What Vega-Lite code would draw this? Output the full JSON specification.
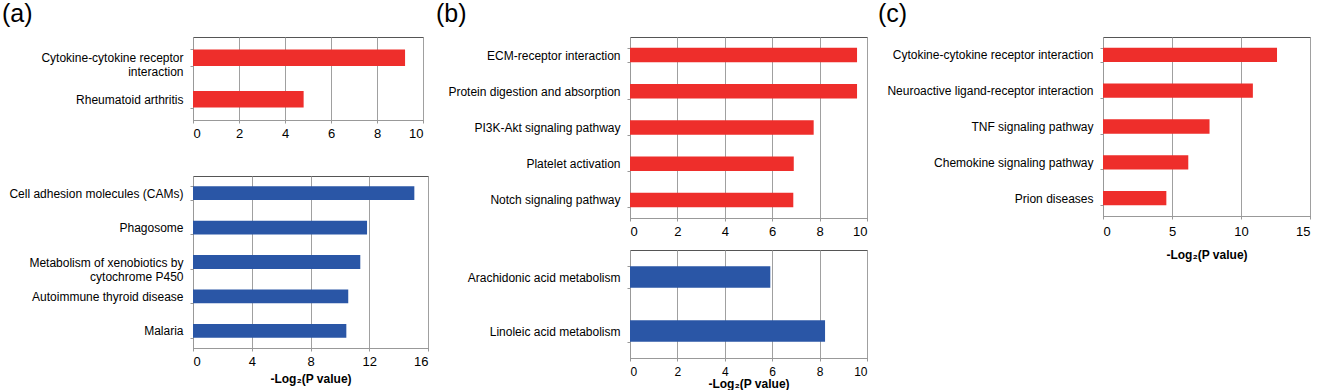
{
  "$schema": "https://vega.github.io/schema/vega-lite/v6.json",
  "background": "white",
  "padding": {"left": 1, "top": 1, "right": 0, "bottom": 0},
  "bounds": "flush",
  "spacing": 437,
  "config": {
    "font": "Liberation Sans",
    "view": {"stroke": "#555", "strokeWidth": 1},
    "axis": {"labelColor": "#000", "titleColor": "#000", "domainColor": "#999", "tickColor": "#999", "tickSize": 3, "gridColor": "#a0a0a0", "labelFont": "Liberation Sans", "titleFont": "Liberation Sans"},
    "axisX": {"grid": true, "labelFontSize": 13, "labelPadding": 4, "titleFontSize": 12, "titleFontWeight": "bold"},
    "axisY": {"grid": false, "labelFontSize": 12, "labelPadding": 7, "labelLimit": 300, "tickBand": "extent", "labelLineHeight": 14},
    "title": {"fontSize": 25, "fontWeight": "normal", "anchor": "start", "frame": "group", "baseline": "alphabetic", "color": "#000", "font": "Liberation Sans"}
  },
  "hconcat": [
    {
      "vconcat": [
        {
          "width": 230, "height": 83,
          "title": {"text": "(a)", "dx": -191, "offset": 4},
          "data": {"values": [
            {"pathway": "Cytokine-cytokine receptor interaction", "value": 9.22},
            {"pathway": "Rheumatoid arthritis", "value": 4.81}
          ]},
          "mark": {"type": "bar", "color": "#EE2E2B"},
          "encoding": {
            "y": {"field": "pathway", "type": "nominal", "sort": null, "title": null,
                  "scale": {"paddingInner": 0.6, "paddingOuter": 0.3},
                  "axis": {"labelExpr": "datum.value == 'Cytokine-cytokine receptor interaction' ? ['Cytokine-cytokine receptor', 'interaction'] : datum.value"}},
            "x": {"field": "value", "type": "quantitative", "title": null,
                  "scale": {"domain": [0, 10], "nice": false},
                  "axis": {"values": [0, 2, 4, 6, 8, 10], "labelPadding": 4.5}}
          }
        },
        {
          "width": 235, "height": 172,
          "data": {"values": [
            {"pathway": "Cell adhesion molecules (CAMs)", "value": 15.07},
            {"pathway": "Phagosome", "value": 11.85},
            {"pathway": "Metabolism of xenobiotics by cytochrome P450", "value": 11.39},
            {"pathway": "Autoimmune thyroid disease", "value": 10.57},
            {"pathway": "Malaria", "value": 10.44}
          ]},
          "mark": {"type": "bar", "color": "#2A56A6"},
          "encoding": {
            "y": {"field": "pathway", "type": "nominal", "sort": null, "title": null,
                  "scale": {"paddingInner": 0.6, "paddingOuter": 0.3},
                  "axis": {"labelExpr": "datum.value == 'Metabolism of xenobiotics by cytochrome P450' ? ['Metabolism of xenobiotics by', 'cytochrome P450'] : datum.value"}},
            "x": {"field": "value", "type": "quantitative", "title": "-Log₂(P value)",
                  "scale": {"domain": [0, 16], "nice": false},
                  "axis": {"values": [0, 4, 8, 12, 16], "labelPadding": 4, "titlePadding": 5}}
          }
        }
      ],
      "spacing": 56,
      "bounds": "flush"
    },
    {
      "hconcat": [
        {
          "vconcat": [
            {
              "width": 237, "height": 181,
              "title": {"text": "(b)", "dx": -194, "offset": 4},
              "data": {"values": [
                {"pathway": "ECM-receptor interaction", "value": 9.58},
                {"pathway": "Protein digestion and absorption", "value": 9.58},
                {"pathway": "PI3K-Akt signaling pathway", "value": 7.75},
                {"pathway": "Platelet activation", "value": 6.91},
                {"pathway": "Notch signaling pathway", "value": 6.89}
              ]},
              "mark": {"type": "bar", "color": "#EE2E2B"},
              "encoding": {
                "y": {"field": "pathway", "type": "nominal", "sort": null, "title": null,
                      "scale": {"paddingInner": 0.6, "paddingOuter": 0.3}},
                "x": {"field": "value", "type": "quantitative", "title": null,
                      "scale": {"domain": [0, 10], "nice": false},
                      "axis": {"values": [0, 2, 4, 6, 8, 10], "labelPadding": 4.5}}
              }
            },
            {
              "width": 237, "height": 108,
              "data": {"values": [
                {"pathway": "Arachidonic acid metabolism", "value": 5.92},
                {"pathway": "Linoleic acid metabolism", "value": 8.23}
              ]},
              "mark": {"type": "bar", "color": "#2A56A6"},
              "encoding": {
                "y": {"field": "pathway", "type": "nominal", "sort": null, "title": null,
                      "scale": {"paddingInner": 0.6, "paddingOuter": 0.3}},
                "x": {"field": "value", "type": "quantitative", "title": "-Log₂(P value)",
                      "scale": {"domain": [0, 10], "nice": false},
                      "axis": {"values": [0, 2, 4, 6, 8, 10], "labelFontSize": 12, "labelPadding": 5, "titlePadding": 1}}
              }
            }
          ],
          "spacing": 32,
          "bounds": "flush"
        },
        {
          "width": 207, "height": 179,
          "title": {"text": "(c)", "dx": -225, "offset": 4},
          "data": {"values": [
            {"pathway": "Cytokine-cytokine receptor interaction", "value": 12.61},
            {"pathway": "Neuroactive ligand-receptor interaction", "value": 10.86},
            {"pathway": "TNF signaling pathway", "value": 7.72},
            {"pathway": "Chemokine signaling pathway", "value": 6.18},
            {"pathway": "Prion diseases", "value": 4.59}
          ]},
          "mark": {"type": "bar", "color": "#EE2E2B"},
          "encoding": {
            "y": {"field": "pathway", "type": "nominal", "sort": null, "title": null,
                  "scale": {"paddingInner": 0.6, "paddingOuter": 0.3}},
            "x": {"field": "value", "type": "quantitative", "title": "-Log₂(P value)",
                  "scale": {"domain": [0, 15], "nice": false},
                  "axis": {"values": [0, 5, 10, 15], "labelPadding": 6, "titlePadding": 11}}
          }
        }
      ],
      "spacing": 473,
      "bounds": "flush"
    }
  ]
}
